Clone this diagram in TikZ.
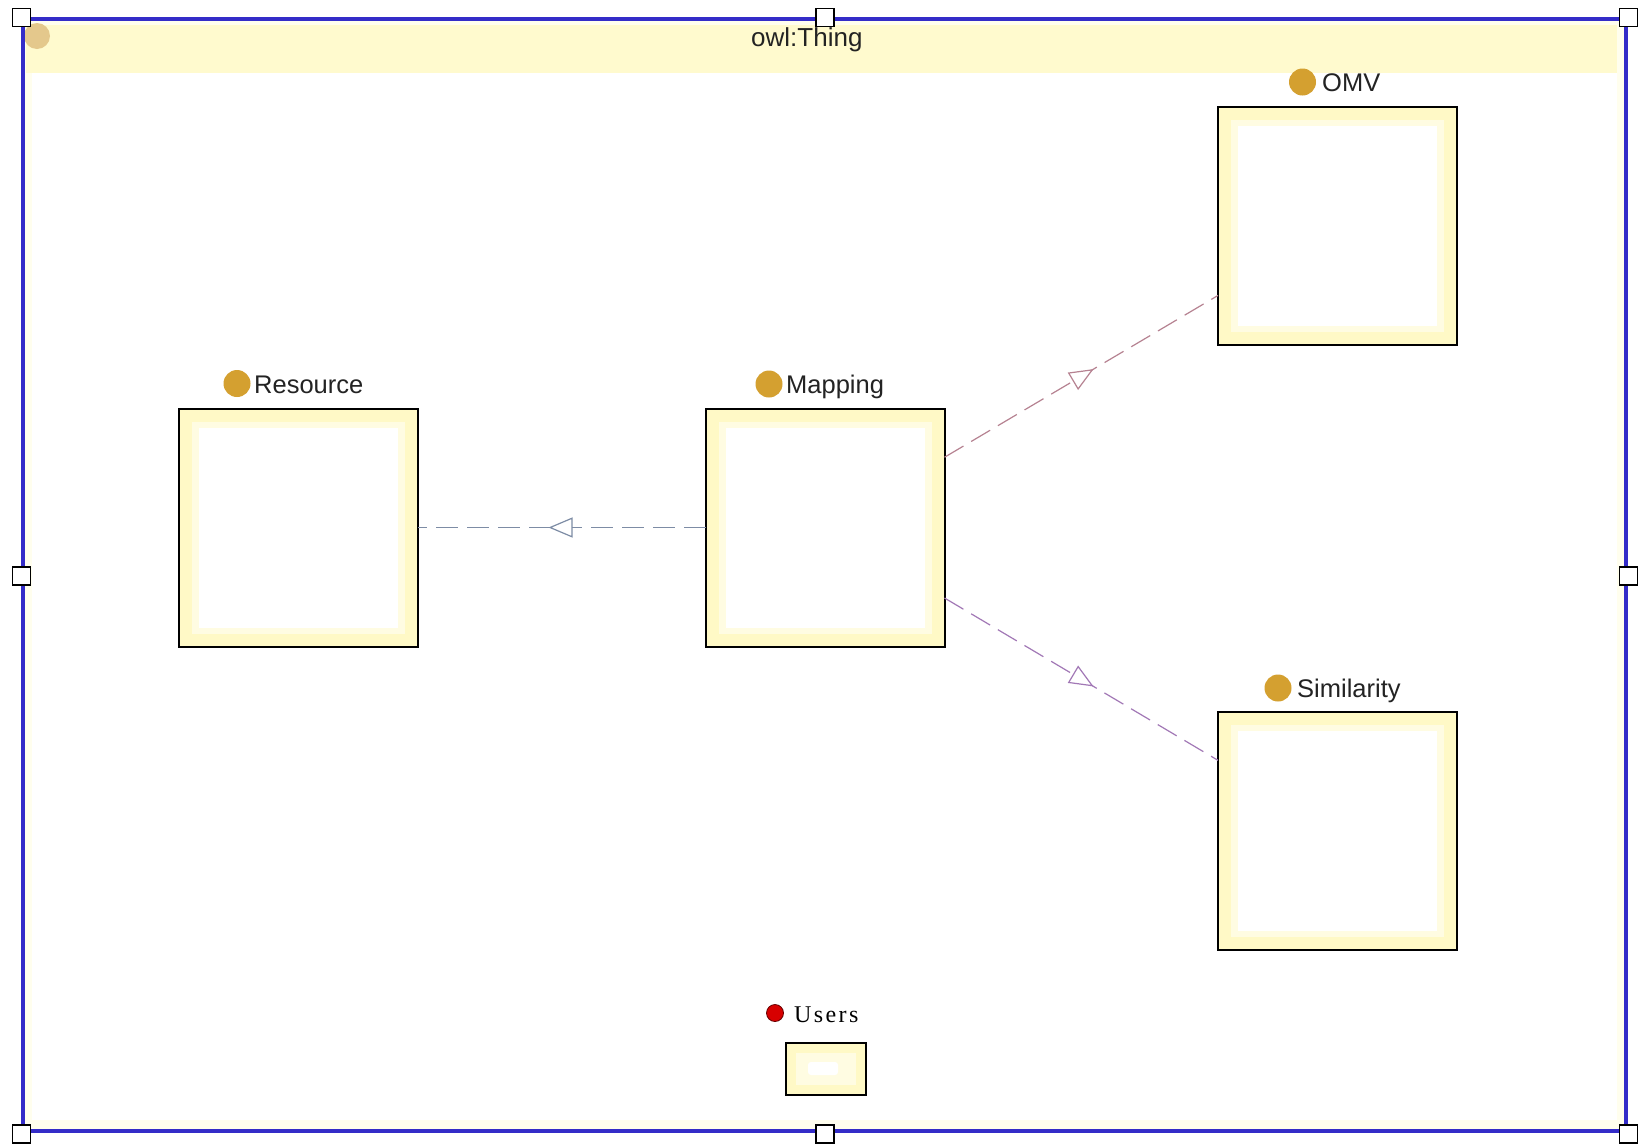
\documentclass[tikz,border=0pt]{standalone}
\usepackage{fontspec}
\setmainfont{Liberation Sans}
\newfontfamily\usersfont[LetterSpace=10]{Liberation Serif}
\usetikzlibrary{arrows.meta,decorations.markings}

\definecolor{frameblue}{RGB}{52,44,200}
\definecolor{boxyellow}{RGB}{255,249,198}
\definecolor{boxyellowlight}{RGB}{255,252,226}
\definecolor{headyellow}{RGB}{255,250,206}
\definecolor{edgeyellow}{RGB}{255,254,238}
\definecolor{dotgold}{RGB}{212,160,48}
\definecolor{dotpale}{RGB}{228,200,140}
\definecolor{txtdark}{RGB}{35,35,35}
\definecolor{lineres}{RGB}{125,140,165}
\definecolor{lineomv}{RGB}{182,130,145}
\definecolor{linesim}{RGB}{162,120,182}
\definecolor{usersred}{RGB}{215,0,0}

\begin{document}
\begin{tikzpicture}[x=1pt,y=-1pt,
  classbox/.style={draw=black, line width=2pt, fill=boxyellow,
    minimum width=239pt, minimum height=238pt, inner sep=0pt, outer sep=0pt},
  classdot/.style={circle, fill=dotgold, draw=none, minimum size=27pt, inner sep=0pt},
  lbl/.style={anchor=base west, inner sep=0pt, text=txtdark,
    font=\fontsize{25.5}{28}\selectfont},
  handle/.style={draw=black, fill=white, line width=1.5pt, minimum size=18pt,
    inner sep=0pt},
  subline/.style={dashed, dash pattern=on 22pt off 9pt, line width=1.2pt,
    postaction={decorate},
    decoration={markings, mark=at position 0.545 with
      {\arrow[solid,line width=1.2pt]{Triangle[length=24pt,width=20pt,fill=white]}}}}
]
% page background / bounding box
\fill[white] (0,0) rectangle (1644,1144);
\useasboundingbox (0,0) rectangle (1644,1144);

% outer frame: inner faint border, header band
\fill[edgeyellow] (23,19) rectangle (1626,1131);
\fill[white] (32,72) rectangle (1617,1120);
\fill[headyellow] (26,25) rectangle (1617,73);
\node[circle, fill=dotpale, minimum size=26pt, inner sep=0pt] (thingdot) at (37,36) {};
\node[lbl, font=\fontsize{26}{28}\selectfont] (thing) at (751,46) {owl:Thing};
\draw[frameblue, line width=3.5pt] (23,19) rectangle (1626,1131);

% handles
\node[handle] (h1) at (21.5,17.5) {};
\node[handle] (h2) at (825,17.5) {};
\node[handle] (h3) at (1628.5,17.5) {};
\node[handle] (h4) at (21.5,576) {};
\node[handle] (h5) at (1628.5,576) {};
\node[handle] (h6) at (21.5,1134) {};
\node[handle] (h7) at (825,1134) {};
\node[handle] (h8) at (1628.5,1134) {};

% class boxes
\node[classbox] (res) at (298,527.5) {};
\node[classbox] (map) at (825,527.5) {};
\node[classbox] (omv) at (1337.5,225.5) {};
\node[classbox] (sim) at (1337.5,830.5) {};
\foreach \b in {res,map,omv,sim}{
  \fill[boxyellowlight] ([xshift=13pt,yshift=-13pt]\b.north west) rectangle ([xshift=-13pt,yshift=13pt]\b.south east);
  \fill[white] ([xshift=20pt,yshift=-19pt]\b.north west) rectangle ([xshift=-20pt,yshift=19pt]\b.south east);
}

% labels
\node[classdot] (resdot) at (237,383.5) {};
\node[lbl] (reslbl) at (254,393) {Resource};
\node[classdot] (mapdot) at (769,384) {};
\node[lbl] (maplbl) at (786,393) {Mapping};
\node[classdot] (omvdot) at (1302.5,82) {};
\node[lbl] (omvlbl) at (1322,91.5) {OMV};
\node[classdot] (simdot) at (1278,688) {};
\node[lbl] (simlbl) at (1297,697) {Similarity};

% users
\node[circle, fill=usersred, draw=black!60!red, line width=0.8pt, minimum size=17pt, inner sep=0pt] (usersdot) at (775,1013) {};
\node[anchor=base west, inner sep=0pt, text=black, font=\usersfont\fontsize{24}{26}\selectfont] (userslbl) at (794,1022) {Users};
\node[draw=black, line width=2pt, fill=boxyellow, minimum width=80pt, minimum height=52pt, inner sep=0pt, outer sep=0pt] (users) at (825.5,1068.5) {};
\fill[boxyellowlight] ([xshift=10pt,yshift=-10pt]users.north west) rectangle ([xshift=-10pt,yshift=10pt]users.south east);
\fill[white, rounded corners=3pt] (808,1062) rectangle (838,1075);

% subclass connectors
\draw[subline, lineres] (map) -- (res);
\draw[subline, lineomv] (map) -- (omv);
\draw[subline, linesim] (map) -- (sim);
\end{tikzpicture}
\end{document}
